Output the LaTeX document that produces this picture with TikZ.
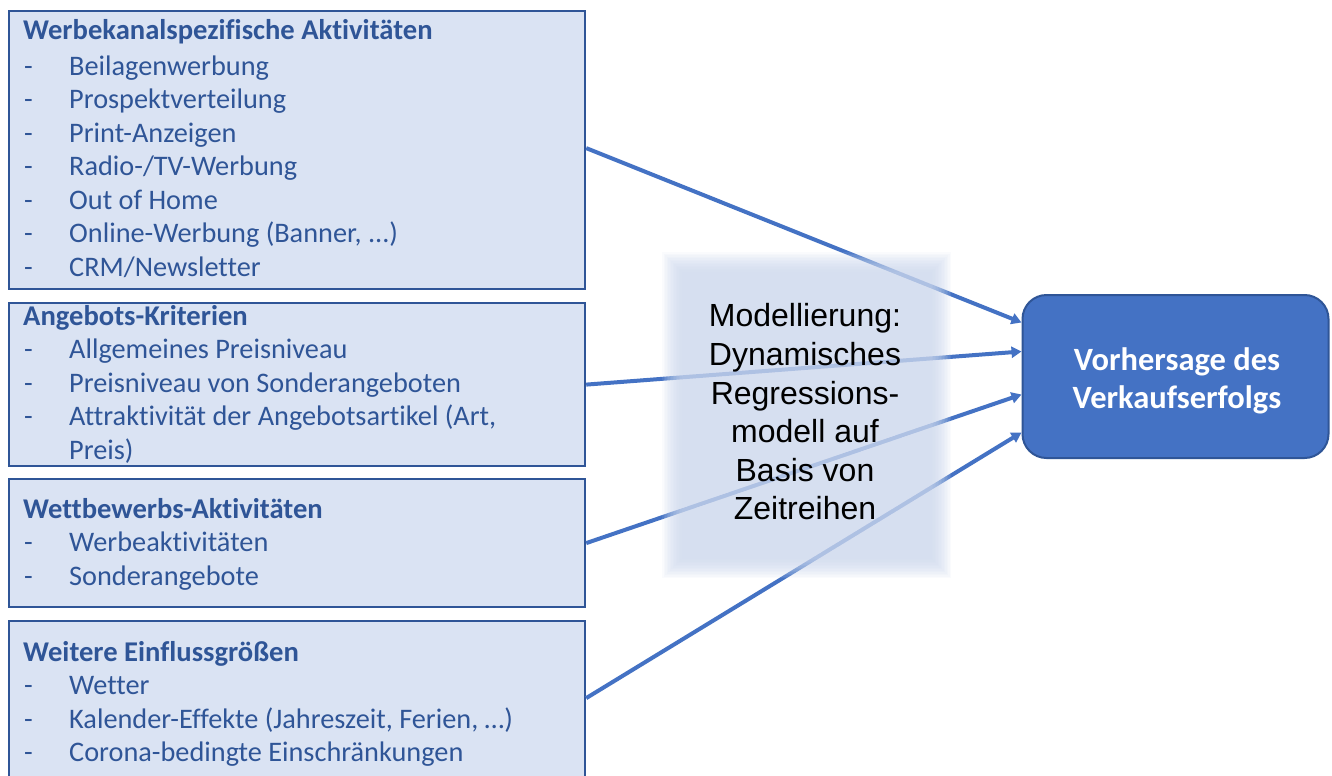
\documentclass[tikz,border=0pt]{standalone}
\usepackage{fontspec}
\setmainfont{Carlito}[Ligatures=NoCommon]
\newfontfamily\arialfont{Liberation Sans}
\usetikzlibrary{arrows.meta,calc}
\definecolor{boxfill}{HTML}{DAE3F3}
\definecolor{boxline}{HTML}{2F5597}
\definecolor{boxtext}{HTML}{2F5597}
\definecolor{accent}{HTML}{4472C4}
\definecolor{midfill}{HTML}{D0DBF0}
\tikzset{
  srcbox/.style={draw=boxline, line width=2.2bp, fill=boxfill, anchor=north west, inner sep=0pt, minimum width=576bp},
  ttl/.style={anchor=base west, inner sep=0pt, text=boxtext, font=\fontsize{28.6bp}{33bp}\selectfont\bfseries},
  itm/.style={anchor=base west, inner sep=0pt, text=boxtext, font=\fontsize{28.3bp}{33bp}\selectfont},
  conn/.style={draw=accent, line width=4bp, -{Triangle[length=10bp,width=11bp]}},
  goalbox/.style={draw=boxline, line width=2bp, fill=accent, rounded corners=24bp, minimum width=306bp, minimum height=163bp, inner sep=0pt},
  goaltext/.style={text=white, align=center, inner sep=0pt, font=\fontsize{32.5bp}{38bp}\selectfont\bfseries},
  modeltext/.style={text=black, align=center, inner sep=0pt, font=\arialfont\fontsize{32bp}{38.6bp}\selectfont},
}
\newcommand\listline[3]{\node[itm] (#1d) at (24,#2) {-}; \node[itm] (#1) at (69,#2) {#3};}
\begin{document}
\begin{tikzpicture}[x=1bp,y=-1bp]
\useasboundingbox (0,0) rectangle (1332,775);
\clip (0,0) rectangle (1332,775);
\fill[white] (0,0) rectangle (1332,775);

% source boxes
\node[srcbox, minimum height=278bp] (b1) at (8,10) {};
\node[srcbox, minimum height=163bp] (b2) at (8,302) {};
\node[srcbox, minimum height=128bp] (b3) at (8,478) {};
\node[srcbox, minimum height=180bp] (b4) at (8,620) {};

% box 1 text
\node[ttl] (t1) at (23,40) {Werbekanalspezifische Aktivitäten};
\listline{a1}{75}{Beilagenwerbung}
\listline{a2}{108.5}{Prospektverteilung}
\listline{a3}{142}{Print-Anzeigen}
\listline{a4}{175.5}{Radio-/TV-Werbung}
\listline{a5}{209}{Out of Home}
\listline{a6}{242.5}{Online-Werbung (Banner, ...)}
\listline{a7}{276}{CRM/Newsletter}

% box 2 text
\node[ttl] (t2) at (23,325) {Angebots-Kriterien};
\listline{c1}{358.5}{Allgemeines Preisniveau}
\listline{c2}{392}{Preisniveau von Sonderangeboten}
\listline{c3}{425.5}{Attraktivität der Angebotsartikel (Art,}
\node[itm] (c4) at (69,459) {Preis)};

% box 3 text
\node[ttl] (t3) at (23,518) {Wettbewerbs-Aktivitäten};
\listline{w1}{551.5}{Werbeaktivitäten}
\listline{w2}{585}{Sonderangebote}

% box 4 text
\node[ttl] (t4) at (23,661) {Weitere Einflussgrößen};
\listline{e1}{694.5}{Wetter}
\listline{e2}{728}{Kalender-Effekte (Jahreszeit, Ferien, …)}
\listline{e3}{761.5}{Corona-bedingte Einschränkungen}

% goal
\node[goalbox] (goal) at (1175.5,376.5) {};
\node[goaltext] (goaltxt) at (1177,380.5) {Vorhersage des\\Verkaufserfolgs};

% connectors
\draw[conn] ([yshift=2bp]b1.east) -- ([yshift=54bp]goal.west);
\draw[conn] (b2.east) -- ([yshift=25bp]goal.west);
\draw[conn] (b3.east) -- ([yshift=-18bp]goal.west);
\draw[conn] ([yshift=13bp]b4.east) -- ([yshift=-56bp]goal.west);

% soft model panel
\foreach \i in {0,...,13}
  \fill[midfill, fill opacity=0.105] (662+1.5*\i,252+1.5*\i) rectangle (951-1.5*\i,578-1.5*\i);
\node[modeltext] (model) at (805,412) {Modellierung:\\Dynamisches\\Regressions-\\modell auf\\Basis von\\Zeitreihen};
\end{tikzpicture}
\end{document}
